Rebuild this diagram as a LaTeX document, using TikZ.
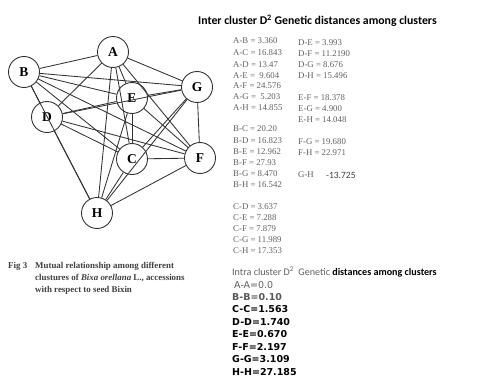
\documentclass[tikz,border=0pt]{standalone}
\usepackage{fontspec}
\setmainfont{Liberation Serif}
\newfontfamily\calfont{Carlito}
\newfontfamily\djfont{DejaVu Sans}
\definecolor{valgray}{gray}{0.38}
\definecolor{linegray}{gray}{0.2}
\begin{document}
\begin{tikzpicture}[x=1pt,y=-1pt,
  cl/.style={circle,draw=linegray,line width=0.9pt,minimum size=31pt,inner sep=0pt,fill=white,font=\fontsize{13.5}{14}\selectfont\bfseries},
  conn/.style={draw=linegray,line width=0.85pt},
  val/.style={anchor=west,text=valgray,font=\fontsize{8.8}{10}\selectfont,inner sep=0pt},
  intra/.style={anchor=west,inner sep=0pt,font=\djfont\fontsize{9.5}{11}\selectfont\bfseries},
  ttl/.style={anchor=west,inner sep=0pt,font=\calfont\fontsize{11.8}{13}\selectfont\bfseries},
  captext/.style={anchor=north west,inner sep=0pt,text=black!75,font=\fontsize{8.9}{12}\selectfont\bfseries,align=left}
]
\useasboundingbox (0,0) rectangle (493,388);
\fill[white] (0,0) rectangle (493,388);

% nodes
\node[cl] (A) at (113,52) {A};
\node[cl] (B) at (24,72) {B};
\node[cl] (G) at (197,87) {G};
\node[cl] (E) at (132,98) {E};
\node[cl] (D) at (47,117) {D};
\node[cl] (C) at (132,159) {C};
\node[cl] (F) at (200,158) {F};
\node[cl] (H) at (97,213) {H};

% all pairwise connectors
\foreach \a/\b in {A/B,A/C,A/D,A/E,A/F,A/G,A/H,
                   B/C,B/D,B/E,B/F,B/G,B/H,
                   C/D,C/E,C/F,C/G,C/H,
                   D/E,D/F,D/G,D/H,
                   E/F,E/G,E/H,
                   F/G,F/H,G/H}
  \draw[conn] (\a) -- (\b);

% title
\node[ttl] (t1) at (198,21) {Inter cluster D\textsuperscript{2} Genetic distances among clusters};

% column 1
\node[val] (ab) at (233,41) {A-B = 3.360};
\node[val] (ac) at (233,53) {A-C = 16.843};
\node[val] (ad) at (233,65) {A-D = 13.47};
\node[val] (ae) at (233,76) {A-E =\ \ 9.604};
\node[val] (af) at (233,86) {A-F = 24.576};
\node[val] (ag) at (233,97) {A-G =\ \ 5.203};
\node[val] (ah) at (233,108) {A-H = 14.855};
\node[val] (bc) at (233,129) {B-C = 20.20};
\node[val] (bd) at (233,141) {B-D = 16.823};
\node[val] (be) at (233,152) {B-E = 12.962};
\node[val] (bf) at (233,163) {B-F = 27.93};
\node[val] (bg) at (233,174) {B-G = 8.470};
\node[val] (bh) at (233,185) {B-H = 16.542};
\node[val] (cd) at (233,207) {C-D = 3.637};
\node[val] (ce) at (233,218) {C-E = 7.288};
\node[val] (cf) at (233,229) {C-F = 7.879};
\node[val] (cg) at (233,240) {C-G = 11.989};
\node[val] (ch) at (233,251) {C-H = 17.353};
% column 2
\node[val] (de) at (298,43) {D-E = 3.993};
\node[val] (df) at (298,54) {D-F = 11.2190};
\node[val] (dg) at (298,65) {D-G = 8.676};
\node[val] (dh) at (298,76) {D-H = 15.496};
\node[val] (ef) at (298,98) {E-F = 18.378};
\node[val] (eg) at (298,109) {E-G = 4.900};
\node[val] (eh) at (298,120) {E-H = 14.048};
\node[val] (fg) at (298,142) {F-G = 19.680};
\node[val] (fh) at (298,153) {F-H = 22.971};
\node[val] (gh) at (298,175) {G-H};
\node[anchor=west,inner sep=0pt,text=black!75,font=\calfont\fontsize{9.5}{11}\selectfont] (ghv) at (326,175) {-13.725};

% caption
\node[captext] (fig) at (8,262) {Fig 3};
\node[captext] (capt) at (35,262) {Mutual relationship among different\\clustures of \textit{Bixa orellana} L., accessions\\with respect to seed Bixin};

% intra
\node[anchor=west,inner sep=0pt,font=\calfont\fontsize{10.1}{12}\selectfont] (t2) at (232,272) {\textcolor{valgray}{Intra cluster D\textsuperscript{2}\ \ Genetic} \textbf{distances among clusters}};
\node[intra,font=\djfont\fontsize{9.5}{11}\selectfont,text=valgray] (aa) at (234,285) {A-A=0.0};
\node[intra,text=black!65] (bb) at (232,297) {B-B=0.10};
\node[intra] (cc) at (232,309) {C-C=1.563};
\node[intra] (dd) at (232,322) {D-D=1.740};
\node[intra] (ee) at (232,334) {E-E=0.670};
\node[intra] (ff) at (232,347) {F-F=2.197};
\node[intra] (gg) at (232,359) {G-G=3.109};
\node[intra] (hh) at (232,372) {H-H=27.185};
\end{tikzpicture}
\end{document}
